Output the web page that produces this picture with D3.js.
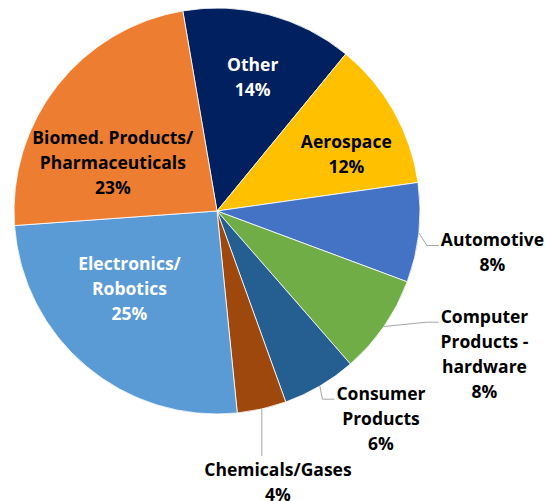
<!DOCTYPE html>
<html>
<head>
<meta charset="utf-8">
<script src="https://cdn.jsdelivr.net/npm/d3@7"></script>
<style>
  html, body { margin: 0; padding: 0; background: #fff; }
  text { font-family: "Open Sans", "Noto Sans", sans-serif; font-weight: 700; }
</style>
</head>
<body>
<div id="chart"></div>
<script>
// slice order runs clockwise, starting just left of 12 o'clock
const categories = ["Other", "Aerospace", "Automotive", "Computer Products - hardware",
  "Consumer Products", "Chemicals/Gases", "Electronics/Robotics", "Biomed. Products/Pharmaceuticals"];
const shares = [13.6, 11.8, 7.9, 7.9, 5.9, 3.9, 25.4, 23.4];
const labelLines = [["Other"], ["Aerospace"], ["Automotive"], ["Computer", "Products -", "hardware"],
  ["Consumer", "Products"], ["Chemicals/Gases"], ["Electronics/", "Robotics"], ["Biomed. Products/", "Pharmaceuticals"]];

const colors = ["#002060", "#FFC000", "#4472C4", "#70AD47", "#255E91", "#9E480E", "#5B9BD5", "#ED7D31"];
const textColors = ["#fff", "#000", "#000", "#000", "#000", "#000", "#fff", "#000"];

// label block centres relative to the pie centre, and leader style
const labelLayout = {
  "Other": {dx: 35.7, dy: -134},
  "Aerospace": {dx: 129.3, dy: -56.8},
  "Automotive": {dx: 275.5, dy: 41.5, leader: "side"},
  "Computer Products - hardware": {dx: 267.5, dy: 143.2, leader: "side"},
  "Consumer Products": {dx: 164, dy: 207.7, leader: "side"},
  "Chemicals/Gases": {dx: 61, dy: 271.5, leader: "below"},
  "Electronics/Robotics": {dx: -87.5, dy: 78},
  "Biomed. Products/Pharmaceuticals": {dx: -104.2, dy: -48.3}
};

const width = 545, height = 501;
const cx = 217, cy = 211, radius = 203;
const lineH = 25;
const rad = (deg) => deg * Math.PI / 180;

const svg = d3.select("#chart")
  .append("svg")
  .attr("width", width)
  .attr("height", height);

const g = svg.append("g")
  .attr("transform", "translate(" + cx + "," + cy + ")");

const data = categories.map((c, i) => ({name: c, value: shares[i], i: i}));

const pie = d3.pie()
  .sort(null)
  .value((d) => d.value)
  .startAngle(rad(-9.7))
  .endAngle(rad(350.3));

const arc = d3.arc().innerRadius(0).outerRadius(radius);
const arcs = pie(data);

g.selectAll("path.slice")
  .data(arcs)
  .enter().append("path")
  .attr("class", "slice")
  .attr("d", arc)
  .attr("fill", (d) => colors[d.data.i])
  .attr("stroke", "#fff")
  .attr("stroke-width", 0.8);

// labels
arcs.forEach((a) => {
  const d = a.data;
  const lay = labelLayout[d.name];
  const lines = labelLines[d.i].concat([Math.round(d.value) + "%"]);
  const n = lines.length;

  const t = g.append("text")
    .attr("text-anchor", "middle")
    .attr("fill", textColors[d.i])
    .style("font-size", "17.5px");

  lines.forEach((ln, k) => {
    t.append("tspan")
      .attr("x", lay.dx)
      .attr("y", lay.dy + (k - (n - 1) / 2) * lineH)
      .attr("dy", "0.36em")
      .text(ln);
  });

  if (lay.leader) {
    const mid = (a.startAngle + a.endAngle) / 2;
    const ex = Math.sin(mid) * radius, ey = -Math.cos(mid) * radius;
    const firstY = lay.dy - (n - 1) / 2 * lineH;
    let pts;
    if (lay.leader === "side") {
      const bb = t.node().getBBox();
      const endX = bb.x - 2, endY = firstY + 5.5;
      pts = [[ex, ey], [endX - 12, endY], [endX, endY]];
    } else {
      pts = [[ex, ey], [ex, firstY - 14]];
    }
    g.insert("path", "text")
      .attr("d", d3.line()(pts))
      .attr("fill", "none")
      .attr("stroke", "#A6A6A6")
      .attr("stroke-width", 1);
  }
});
</script>
</body>
</html>
